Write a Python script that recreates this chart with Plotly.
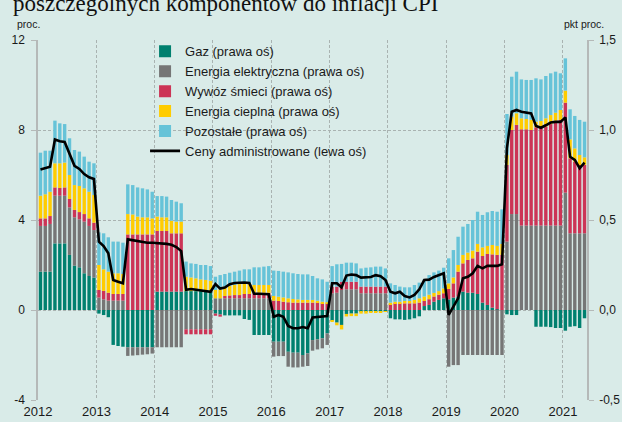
import pandas as pd
import plotly.graph_objects as go

# ---------------- data ----------------
months = pd.date_range("2012-01-01", "2021-05-01", freq="MS")

# contributions (pp, right axis)
gaz = [
    0.213, 0.213, 0.213, 0.370, 0.370, 0.370, 0.306, 0.246, 0.237, 0.204, 0.189, 0.180,
    -0.020, -0.028, -0.040, -0.194, -0.200, -0.204, -0.207, -0.207, -0.207, -0.207, -0.207, -0.207,
    0.102, 0.102, 0.102, 0.102, 0.102, 0.102, 0.105, 0.105, 0.105, 0.105, 0.105, 0.105,
    -0.020, -0.025, -0.030, -0.030, -0.030, -0.030, -0.050, -0.055, -0.139, -0.139, -0.139, -0.139,
    -0.176, -0.176, -0.176, -0.232, -0.237, -0.237, -0.250, -0.241, -0.167, -0.163, -0.157, -0.130,
    -0.060, -0.070, -0.083, -0.022, -0.020, -0.020, -0.010, -0.010, -0.008, -0.008, -0.006, -0.006,
    -0.046, -0.052, -0.052, -0.055, -0.052, -0.046, -0.035, 0.022, 0.028, 0.046, 0.056, 0.065,
    0.059, 0.069, 0.074, 0.102, 0.096, 0.096, 0.089, 0.041, 0.028, 0.013, 0.004, 0.000,
    -0.024, -0.028, -0.028, 0.000, 0.000, 0.000, -0.093, -0.093, -0.093, -0.095, -0.100, -0.100,
    -0.115, -0.093, -0.090, -0.100, -0.046,
]
energia_elektryczna = [
    0.254, 0.254, 0.265, 0.265, 0.265, 0.265, 0.264, 0.269, 0.267, 0.287, 0.278, 0.264,
    0.069, 0.059, 0.052, 0.052, 0.052, 0.052, -0.048, -0.046, -0.044, -0.041, -0.039, -0.035,
    -0.207, -0.207, -0.207, -0.207, -0.207, -0.207, -0.107, -0.107, -0.107, -0.107, -0.107, -0.107,
    0.065, 0.065, 0.065, 0.065, 0.065, 0.065, 0.065, 0.065, 0.065, 0.065, 0.065, 0.065,
    -0.083, -0.080, -0.080, -0.083, -0.082, -0.082, -0.065, -0.070, -0.059, -0.056, -0.056, -0.064,
    0.093, 0.096, 0.111, 0.115, 0.115, 0.115, 0.093, 0.093, 0.093, 0.093, 0.093, 0.093,
    0.0, 0.0, 0.0, 0.0, 0.0, 0.0, 0.0, 0.0, 0.0, 0.0, 0.0, 0.0,
    -0.315, -0.306, -0.306, -0.250, -0.250, -0.250, -0.250, -0.250, -0.250, -0.250, -0.250, -0.250,
    0.380, 0.533, 0.533, 0.469, 0.469, 0.469, 0.469, 0.469, 0.469, 0.469, 0.469, 0.469,
    0.652, 0.426, 0.426, 0.426, 0.426,
]
wywoz_smieci = [
    0.042, 0.042, 0.044, 0.046, 0.043, 0.046, 0.047, 0.041, 0.040, 0.042, 0.042, 0.041,
    0.042, 0.047, 0.044, 0.037, 0.037, 0.037, 0.420, 0.420, 0.420, 0.420, 0.420, 0.420,
    0.337, 0.337, 0.337, 0.324, 0.324, 0.324, -0.028, -0.028, -0.028, -0.028, -0.028, -0.028,
    -0.012, -0.012, 0.013, 0.016, 0.018, 0.018, 0.024, 0.024, 0.031, 0.031, 0.031, 0.031,
    0.052, 0.050, 0.046, 0.043, 0.041, 0.041, 0.041, 0.041, 0.041, 0.041, 0.037, 0.037,
    0.037, 0.034, 0.046, 0.042, 0.042, 0.042, 0.037, 0.037, 0.037, 0.037, 0.037, 0.037,
    0.033, 0.037, 0.037, 0.037, 0.037, 0.037, 0.041, 0.028, 0.032, 0.029, 0.029, 0.028,
    0.058, 0.079, 0.139, 0.157, 0.182, 0.191, 0.235, 0.259, 0.283, 0.296, 0.302, 0.306,
    0.426, 0.467, 0.495, 0.535, 0.535, 0.531, 0.546, 0.546, 0.550, 0.564, 0.583, 0.587,
    0.500, 0.417, 0.398, 0.380, 0.380,
]
energia_cieplna = [
    0.126, 0.134, 0.135, 0.134, 0.137, 0.138, 0.133, 0.138, 0.145, 0.143, 0.148, 0.154,
    0.139, 0.120, 0.117, 0.115, 0.115, 0.111, 0.113, 0.111, 0.099, 0.095, 0.095, 0.089,
    0.080, 0.076, 0.076, 0.070, 0.065, 0.065, 0.080, 0.076, 0.071, 0.065, 0.062, 0.058,
    0.046, 0.050, 0.052, 0.052, 0.056, 0.061, 0.059, 0.059, 0.043, 0.043, 0.043, 0.043,
    0.026, 0.024, 0.024, 0.022, 0.020, 0.018, 0.015, 0.015, 0.015, 0.011, 0.009, 0.006,
    -0.004, -0.015, -0.025, -0.014, -0.014, -0.014, -0.010, -0.010, -0.008, -0.008, -0.006, -0.005,
    0.008, 0.009, 0.009, 0.013, 0.013, 0.019, 0.024, 0.025, 0.025, 0.020, 0.020, 0.027,
    0.031, 0.033, 0.037, 0.047, 0.041, 0.043, 0.043, 0.048, 0.045, 0.052, 0.050, 0.061,
    0.055, 0.074, 0.065, 0.061, 0.057, 0.057, 0.031, 0.035, 0.046, 0.050, 0.044, 0.055,
    0.067, 0.105, 0.074, 0.055, 0.042,
]
pozostale = [
    0.239, 0.242, 0.228, 0.237, 0.222, 0.214, 0.204, 0.195, 0.191, 0.176, 0.167, 0.176,
    0.181, 0.200, 0.191, 0.176, 0.176, 0.174, 0.165, 0.163, 0.162, 0.161, 0.155, 0.148,
    0.114, 0.118, 0.115, 0.115, 0.111, 0.102, 0.084, 0.078, 0.080, 0.080, 0.083, 0.081,
    0.074, 0.079, 0.070, 0.074, 0.074, 0.075, 0.078, 0.078, 0.098, 0.098, 0.102, 0.105,
    0.141, 0.143, 0.143, 0.144, 0.143, 0.141, 0.142, 0.142, 0.133, 0.124, 0.124, 0.114,
    0.114, 0.124, 0.099, 0.106, 0.106, 0.102, 0.101, 0.105, 0.107, 0.111, 0.111, 0.101,
    0.107, 0.093, 0.084, 0.076, 0.076, 0.083, 0.087, 0.095, 0.109, 0.114, 0.114, 0.115,
    0.139, 0.152, 0.157, 0.157, 0.159, 0.170, 0.179, 0.180, 0.187, 0.189, 0.190, 0.192,
    0.228, 0.222, 0.231, 0.216, 0.217, 0.221, 0.241, 0.231, 0.235, 0.232, 0.228, 0.204,
    0.179, 0.167, 0.180, 0.195, 0.198,
]
# administered prices, % y/y (left axis)
ceny_administrowane = [
    6.25, 6.30, 6.37, 7.58, 7.50, 7.47, 6.96, 6.41, 6.27, 6.04, 5.90, 5.82,
    3.04, 2.84, 2.52, 1.33, 1.26, 1.19, 3.14, 3.10, 3.04, 3.00, 2.99, 2.99,
    2.98, 2.96, 2.94, 2.90, 2.80, 2.62, 0.90, 0.93, 0.90, 0.85, 0.82, 0.81,
    1.15, 0.95, 1.00, 1.15, 1.20, 1.22, 1.22, 1.20, 0.72, 0.72, 0.72, 0.70,
    -0.30, -0.22, -0.30, -0.71, -0.81, -0.81, -0.76, -0.81, -0.33, -0.30, -0.30, -0.27,
    1.19, 1.19, 1.01, 1.53, 1.58, 1.55, 1.44, 1.44, 1.47, 1.55, 1.50, 1.33,
    0.81, 0.74, 0.81, 0.62, 0.56, 0.67, 0.92, 1.33, 1.35, 1.47, 1.55, 1.63,
    -0.22, 0.15, 0.52, 1.41, 1.48, 1.63, 1.96, 1.85, 1.96, 1.96, 1.96, 2.03,
    7.20, 8.81, 8.89, 8.81, 8.77, 8.74, 8.18, 8.10, 8.21, 8.33, 8.36, 8.36,
    8.56, 6.81, 6.67, 6.30, 6.55,
]

series_names = ["Gaz (prawa oś)", "Energia elektryczna (prawa oś)", "Wywóz śmieci (prawa oś)",
                "Energia cieplna (prawa oś)", "Pozostałe (prawa oś)"]
line_name = "Ceny administrowane (lewa oś)"

year_tickvals = ["2012-01-01", "2013-01-01", "2014-01-01", "2015-01-01", "2016-01-01",
                 "2017-01-01", "2018-01-01", "2019-01-01", "2020-01-01", "2021-01-01"]
year_ticktext = ["2012", "2013", "2014", "2015", "2016", "2017", "2018", "2019", "2020", "2021"]
left_tickvals = [-4, 0, 4, 8, 12]
left_ticktext = ["-4", "0", "4", "8", "12"]
right_tickvals = [-0.5, 0.0, 0.5, 1.0, 1.5]
right_ticktext = ["-0,5", "0,0", "0,5", "1,0", "1,5"]

# ---------------- style ----------------
BG = "#d9ebe8"
colors = ["#00806f", "#767676", "#cc3456", "#ffcc00", "#66c3d8"]
FONT = "Liberation Sans, Arial, sans-serif"
GRID = "#a9b3b1"
AXIS = "#b5b9b8"

fig = go.Figure()
series = [gaz, energia_elektryczna, wywoz_smieci, energia_cieplna, pozostale]
for name, vals, col in zip(series_names, series, colors):
    fig.add_trace(go.Bar(
        x=months, y=vals, name=name, marker_color=col, marker_line_width=0,
        xperiod="M1", xperiodalignment="middle", yaxis="y",
    ))
fig.add_trace(go.Scatter(
    x=months, y=ceny_administrowane, name=line_name, mode="lines",
    line=dict(color="black", width=2.6), xperiod="M1", xperiodalignment="middle",
    yaxis="y2",
))

fig.update_layout(
    width=622, height=422,
    margin=dict(l=38, r=35, t=40, b=22, autoexpand=False),
    paper_bgcolor=BG, plot_bgcolor=BG,
    barmode="relative", bargap=0.28,
    font=dict(family=FONT, size=12, color="#1a1a1a"),
    showlegend=True,
    legend=dict(x=0.195, y=1.01, xanchor="left", yanchor="top", bgcolor="rgba(0,0,0,0)",
                font=dict(size=13), traceorder="normal"),
    xaxis=dict(
        type="date", range=["2012-01-01", "2021-06-01"], automargin=False,
        tickvals=year_tickvals, ticktext=year_ticktext, ticks="",
        showgrid=True, gridcolor=GRID, griddash="3px,2px", gridwidth=1,
        zeroline=False, showline=False, tickfont=dict(size=13), ticklabelstandoff=2,
    ),
    yaxis=dict(
        side="right", range=[-0.5, 1.5], tickvals=right_tickvals, ticktext=right_ticktext,
        showgrid=True, gridcolor=GRID, griddash="3px,2px", gridwidth=1, automargin=False,
        zeroline=False, showline=True, linecolor=AXIS, linewidth=1.5,
        ticks="outside", ticklen=5, tickcolor=AXIS, tickfont=dict(size=12),
        ticklabelstandoff=3,
    ),
    yaxis2=dict(
        overlaying="y", side="left", range=[-4, 12], tickvals=left_tickvals,
        ticktext=left_ticktext, showgrid=False, zeroline=False, showline=True,
        linecolor=AXIS, linewidth=1.5, ticks="outside", ticklen=5, tickcolor=AXIS,
        tickfont=dict(size=12), automargin=False, ticklabelstandoff=4,
    ),
    annotations=[
        dict(text="poszczególnych komponentów do inflacji CPI", xref="paper", yref="paper",
             x=-0.049, y=1.101, xanchor="left", yanchor="middle", showarrow=False,
             font=dict(family="Liberation Serif, Times New Roman, serif", size=23, color="#111")),
        dict(text="proc.", xref="paper", yref="paper", x=-0.018, y=1.044,
             xanchor="center", yanchor="middle", showarrow=False, font=dict(size=10.5)),
        dict(text="pkt proc.", xref="paper", yref="paper", x=0.995, y=1.044,
             xanchor="center", yanchor="middle", showarrow=False, font=dict(size=10.5)),
    ],
)

fig.write_html(
    "out.html",
    config={"displayModeBar": False},
    post_script="document.body.style.margin='0';document.body.style.background='" + BG + "';",
)
